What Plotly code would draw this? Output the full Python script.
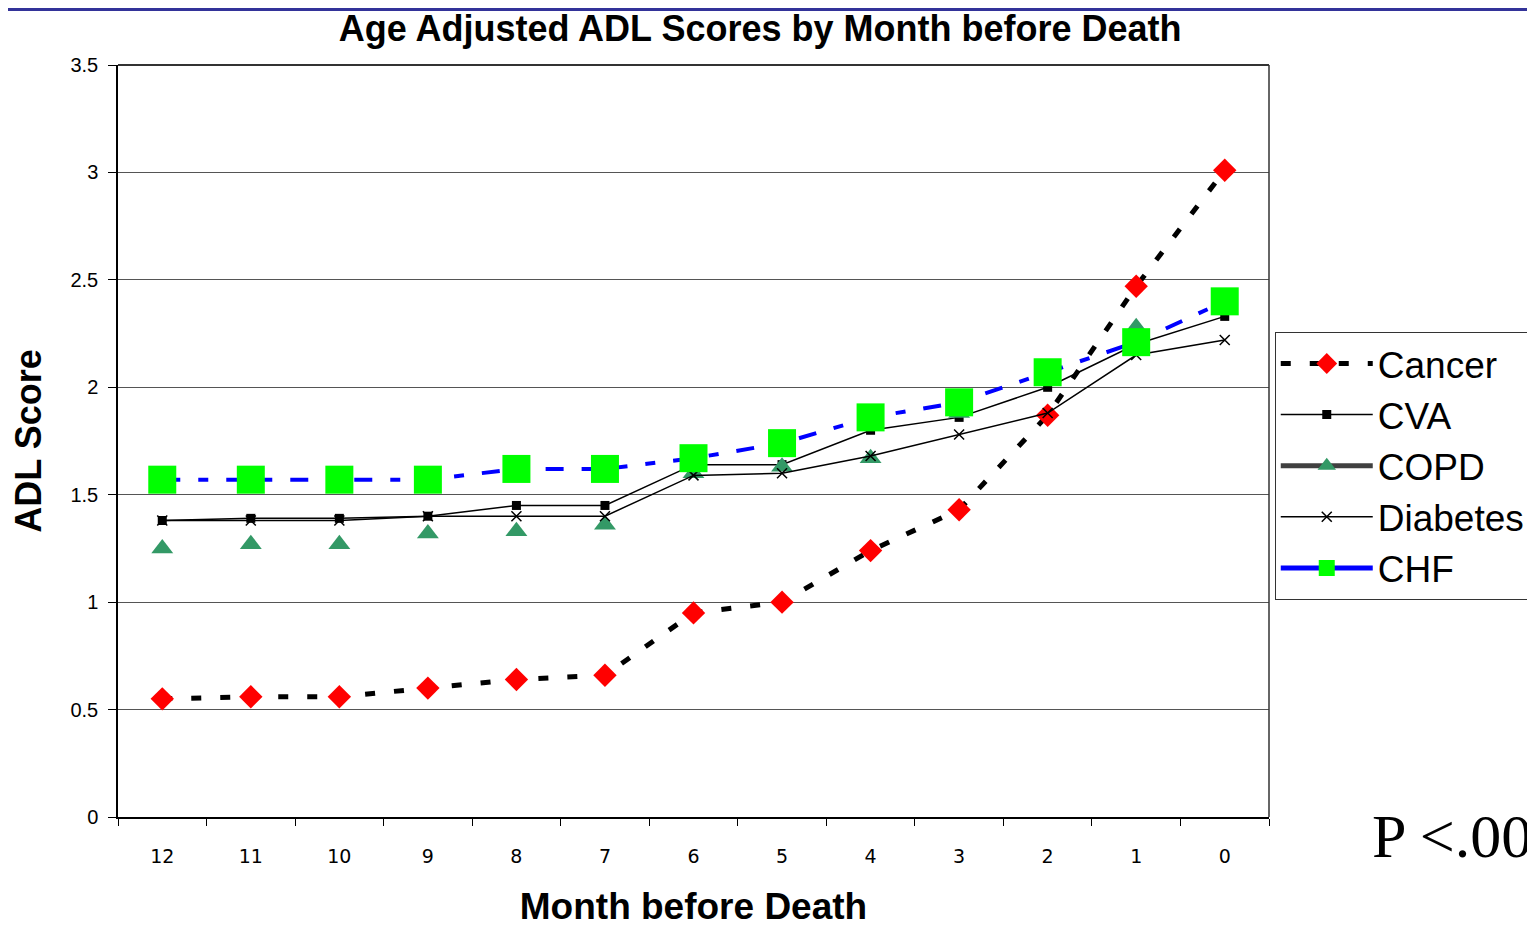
import plotly.graph_objects as go

months = ["12", "11", "10", "9", "8", "7", "6", "5", "4", "3", "2", "1", "0"]
cancer = [0.55, 0.56, 0.56, 0.60, 0.64, 0.66, 0.95, 1.00, 1.24, 1.43, 1.87, 2.47, 3.01]
cva = [1.38, 1.39, 1.39, 1.40, 1.45, 1.45, 1.64, 1.64, 1.80, 1.86, 2.00, 2.20, 2.33]
copd = [1.25, 1.27, 1.27, 1.32, 1.33, 1.36, 1.60, 1.63, 1.67, 1.88, 2.05, 2.28, 2.38]
diabetes = [1.38, 1.38, 1.38, 1.40, 1.40, 1.40, 1.59, 1.60, 1.68, 1.78, 1.88, 2.15, 2.22]
chf = [1.57, 1.57, 1.57, 1.57, 1.62, 1.62, 1.67, 1.74, 1.86, 1.93, 2.07, 2.21, 2.40]

SANS = "Liberation Sans, Arial"

fig = go.Figure()
fig.add_trace(go.Scatter(x=months, y=cancer, name="Cancer", mode="lines+markers",
                         line=dict(color="black", width=5, dash="10px,19px"),
                         marker=dict(symbol="diamond", color="#FF0000", size=18)))
fig.add_trace(go.Scatter(x=months, y=cva, name="CVA", mode="lines+markers",
                         line=dict(color="black", width=1.5),
                         marker=dict(symbol="square", color="black", size=9)))
fig.add_trace(go.Scatter(x=months, y=copd, name="COPD", mode="markers", showlegend=False,
                         marker=dict(symbol="triangle-up", color="#339966", size=19)))
fig.add_trace(go.Scatter(x=[None], y=[None], name="COPD", mode="lines+markers",
                         line=dict(color="#404040", width=5),
                         marker=dict(symbol="triangle-up", color="#339966", size=19)))
fig.add_trace(go.Scatter(x=months, y=diabetes, name="Diabetes", mode="lines+markers",
                         line=dict(color="black", width=1.5),
                         marker=dict(symbol="x-thin-open", color="black", size=10,
                                     line=dict(color="black", width=1.5))))
fig.add_trace(go.Scatter(x=months, y=chf, name="CHF", mode="lines+markers", showlegend=False,
                         line=dict(color="#0000FF", width=4, dash="18px,18px,10px,18px"),
                         marker=dict(symbol="square", color="#00FF00", size=28)))
fig.add_trace(go.Scatter(x=[None], y=[None], name="CHF", mode="lines+markers",
                         line=dict(color="#0000FF", width=5),
                         marker=dict(symbol="square", color="#00FF00", size=28)))

# the page body adds an 8px offset; margins compensate for it
fig.update_layout(
    width=1535, height=932,
    margin=dict(l=110, r=274, t=57, b=123),
    paper_bgcolor="white", plot_bgcolor="white",
    title=dict(text="<b>Age Adjusted ADL Scores by Month before Death</b>",
               x=0.49, xanchor="center", y=1 - 20 / 932, yanchor="middle",
               font=dict(family=SANS, size=36, color="black")),
    font=dict(family="DejaVu Sans, Verdana", color="black"),
    xaxis=dict(type="category", categoryorder="array", categoryarray=months,
               range=[-0.5, 12.5], tickson="boundaries", ticks="outside", ticklen=7,
               tickcolor="black", showline=True, linecolor="black", linewidth=1.5,
               mirror=False, showgrid=False, tickfont=dict(size=19),
               ticklabelstandoff=21, automargin=False,
               title=dict(text="<b>Month before Death</b>", standoff=28,
                          font=dict(family=SANS, size=37))),
    yaxis=dict(range=[0, 3.5], dtick=0.5, ticks="outside", ticklen=8, tickcolor="black",
               showline=True, linecolor="black", linewidth=1.5, showgrid=True,
               gridcolor="#555555", gridwidth=1, zeroline=False,
               tickformat="~g", tickfont=dict(family=SANS, size=20),
               ticklabelstandoff=6, automargin=False,
               title=dict(text="<b>ADL Score</b>", standoff=26,
                          font=dict(family=SANS, size=36))),
    legend=dict(x=1.005, y=0.645, xanchor="left", yanchor="top",
                bordercolor="#333333", borderwidth=1, bgcolor="white",
                font=dict(family=SANS, size=37, color="black"),
                itemwidth=92, tracegroupgap=0),
    showlegend=True,
)

# plot frame (top and right edges)
fig.add_shape(type="line", xref="paper", yref="paper", x0=0, x1=1, y0=1, y1=1,
              line=dict(color="#333333", width=2))
fig.add_shape(type="line", xref="paper", yref="paper", x0=1, x1=1, y0=0, y1=1,
              line=dict(color="#333333", width=1.5))
# top decorative bar
fig.add_shape(type="rect", xref="paper", yref="paper", x0=-0.2, x1=1.3,
              y0=1 + 54 / 752, y1=1 + 58 / 752, line=dict(width=0), fillcolor="#333399")

fig.add_annotation(text="P &lt;.00", xref="paper", yref="paper",
                   x=(1362 - 110) / 1151, y=(809 - 828) / 752, xanchor="left", yanchor="middle",
                   showarrow=False,
                   font=dict(family="Liberation Serif, Times New Roman", size=62, color="black"))

fig.write_html("out.html")
